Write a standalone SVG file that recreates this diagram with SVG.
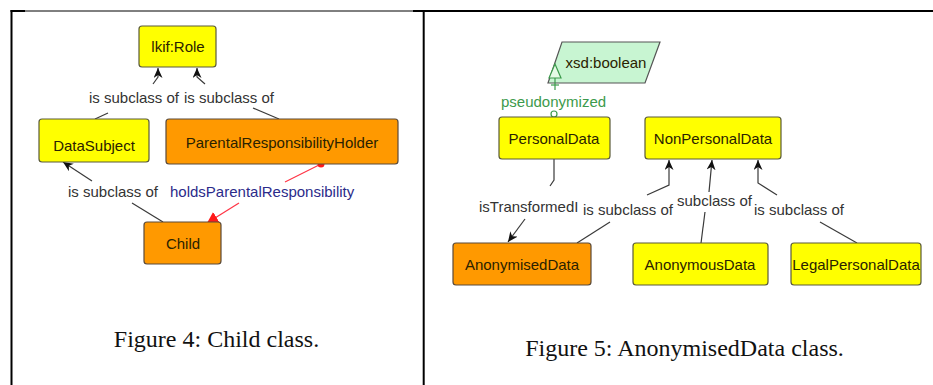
<svg xmlns="http://www.w3.org/2000/svg" width="933" height="385" viewBox="0 0 933 385">
<style>
.yel{fill:#ffff00;stroke:#5a5a3a;stroke-width:1.2}
.org{fill:#ff9900;stroke:#5a4a3a;stroke-width:1.2}
.nt{font-family:"Liberation Sans",Arial,sans-serif;font-size:15px;fill:#2a2200;text-anchor:middle}
.lb{font-family:"Liberation Sans",Arial,sans-serif;font-size:15px;fill:#333333}
.sub{fill:none;stroke:#3a3a3a;stroke-width:1.2}
.red{fill:none;stroke:#ff3344;stroke-width:1.2}
.cap{font-family:"Liberation Serif","Times New Roman",serif;font-size:24px;fill:#111;text-anchor:middle}
.frame{stroke:#000;fill:none}
</style>
<defs>
<marker id="arr" markerUnits="userSpaceOnUse" markerWidth="11" markerHeight="9" refX="10" refY="4.5" orient="auto">
<path d="M0,0 L10,4.5 L0,9 L3,4.5 z" fill="#111"/>
</marker>
<marker id="rarr" markerUnits="userSpaceOnUse" markerWidth="12" markerHeight="12" refX="11" refY="6" orient="auto">
<path d="M0,0 L11,6 L0,12 z" fill="#ff1a1a"/>
</marker>
</defs>
<rect width="933" height="385" fill="#fff"/>
<g id="frame">
<line class="frame" x1="10.5" y1="11" x2="25" y2="11" stroke-width="2"/>
<line class="frame" x1="25" y1="11" x2="413" y2="11" stroke-width="1"/>
<line class="frame" x1="413" y1="11" x2="933" y2="11" stroke-width="2"/>
<line class="frame" x1="11.5" y1="10" x2="11.5" y2="385" stroke-width="2"/>
<line class="frame" x1="423.7" y1="10" x2="423.7" y2="385" stroke-width="2"/>
</g>
<g id="xsd-boolean">
<polygon points="562,42 660,42 645,83 548,83" fill="#c8f5d2" stroke="#555" stroke-width="1.2"/>
<text class="nt" x="606" y="68">xsd:boolean</text>
</g>
<g id="connectors">
<polyline class="sub" points="95,119 108,113"/>
<polyline class="sub" points="153,84 158,77 158,68" marker-end="url(#arr)"/>
<polyline class="sub" points="279,119 253,108"/>
<polyline class="sub" points="205,84 197,77 197,68" marker-end="url(#arr)"/>
<polyline class="sub" points="163,222 132,203"/>
<polyline class="sub" points="92,181 63,162" marker-end="url(#arr)"/>
<polyline class="red" points="321,164 285,182"/>
<polyline class="red" points="239,203 207,223" marker-end="url(#rarr)"/>
<circle cx="321" cy="164" r="3.5" fill="#ff1a1a"/>
<polygon points="549,78 555,64 561,78" fill="#e6fae6" stroke="#3c9a4c" stroke-width="1.2"/>
<line x1="555" y1="78" x2="555" y2="90" stroke="#3c9a4c" stroke-width="1.2"/>
<line x1="551" y1="85" x2="559" y2="85" stroke="#3c9a4c" stroke-width="1.2"/>
<circle cx="554" cy="114" r="3" fill="#fff" stroke="#3c9a4c" stroke-width="1.2"/>
<polyline class="sub" points="554,159 554,180 550,186"/>
<polyline class="sub" points="525,219 508,242" marker-end="url(#arr)"/>
<polyline class="sub" points="577,243 610,222"/>
<polyline class="sub" points="647,195 669,185 669,160" marker-end="url(#arr)"/>
<polyline class="sub" points="701,243 705,212"/>
<polyline class="sub" points="709,192 712,160" marker-end="url(#arr)"/>
<polyline class="sub" points="857,243 820,222"/>
<polyline class="sub" points="777,195 758,183 758,160" marker-end="url(#arr)"/>
</g>
<g id="labels">
<text class="lb" x="89" y="103">is subclass of</text>
<text class="lb" x="184" y="103">is subclass of</text>
<text class="lb" x="68" y="197">is subclass of</text>
<text class="lb" x="170" y="197" style="fill:#2b2b8a">holdsParentalResponsibility</text>
<text class="lb" x="501" y="107" style="fill:#3c9a4c">pseudonymized</text>
<text class="lb" x="479" y="212">isTransformedI</text>
<text class="lb" x="583" y="215">is subclass of</text>
<text class="lb" x="677" y="206">subclass of</text>
<text class="lb" x="754" y="215">is subclass of</text>
</g>
<g id="lkif-role">
<rect class="yel" x="139" y="26" width="77" height="41" rx="3"/>
<text class="nt" x="178" y="52">lkif:Role</text>
</g>
<g id="data-subject">
<rect class="yel" x="39" y="119" width="110" height="43" rx="3"/>
<text class="nt" x="94" y="151">DataSubject</text>
</g>
<g id="parental-responsibility-holder">
<rect class="org" x="166" y="119" width="232" height="45" rx="3"/>
<text class="nt" x="282" y="148">ParentalResponsibilityHolder</text>
</g>
<g id="child">
<rect class="org" x="144" y="222" width="77" height="42" rx="3"/>
<text class="nt" x="183" y="249">Child</text>
</g>
<g id="personal-data">
<rect class="yel" x="499" y="117" width="111" height="42" rx="3"/>
<text class="nt" x="554" y="144">PersonalData</text>
</g>
<g id="non-personal-data">
<rect class="yel" x="645" y="117" width="136" height="42" rx="3"/>
<text class="nt" x="713" y="144">NonPersonalData</text>
</g>
<g id="anonymised-data">
<rect class="org" x="453" y="243" width="138" height="42" rx="3"/>
<text class="nt" x="522" y="270">AnonymisedData</text>
</g>
<g id="anonymous-data">
<rect class="yel" x="633" y="243" width="135" height="42" rx="3"/>
<text class="nt" x="700" y="270">AnonymousData</text>
</g>
<g id="legal-personal-data">
<rect class="yel" x="791" y="243" width="130" height="42" rx="3"/>
<text class="nt" x="856" y="270">LegalPersonalData</text>
</g>
<g id="captions">
<text class="cap" x="216.5" y="347">Figure 4: Child class.</text>
<text class="cap" x="684.5" y="356">Figure 5: AnonymisedData class.</text>
</g>
</svg>
